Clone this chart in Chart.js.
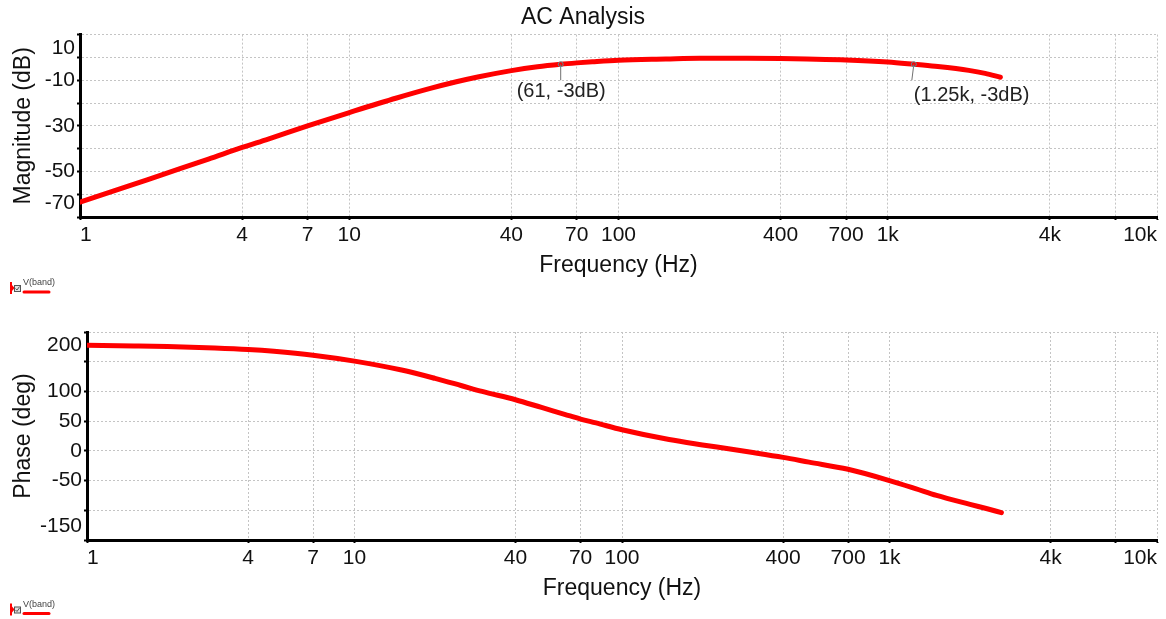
<!DOCTYPE html>
<html>
<head>
<meta charset="utf-8">
<title>AC Analysis</title>
<script src="https://cdn.jsdelivr.net/npm/chart.js@4.4.1/dist/chart.umd.min.js"></script>
<style>
  body { margin: 0; background: #fff; }
  canvas { display: block; }
</style>
</head>
<body>
<canvas id="magChart" width="1166" height="300"></canvas>
<canvas id="phaseChart" width="1166" height="319"></canvas>
<script>
// Sweep points (Hz), shared by both traces
const freqHz = [1, 1.5, 2, 3, 4, 5, 7, 10, 15, 20, 25, 30, 40, 50, 61, 70, 80, 100,
  150, 200, 250, 300, 400, 500, 700, 1000, 1250, 1500, 2000, 2300, 2620];

// V(band) magnitude in dB
const magnitudeDb = [-63.5, -56.6, -51.6, -44.6, -39.5, -35.8, -30.0, -24.2, -17.8, -13.6,
  -10.7, -8.6, -5.8, -4.1, -3.0, -2.4, -1.9, -1.2, -0.7, -0.4, -0.4, -0.4, -0.5, -0.7,
  -1.1, -2.0, -3.0, -3.9, -5.7, -7.0, -8.7];

// V(band) phase in degrees
const phaseDeg = [177.5, 176.5, 175.5, 173, 170.5, 167.5, 161, 151, 136, 122, 110, 100,
  86, 73, 61.5, 53.5, 47, 35.5, 19, 10, 3.5, -2, -11, -19, -31, -50, -63.5, -75, -90,
  -97, -104];

// Axis ticks: a gridline at every value, blank labels are left off
const freqTicks = [1, 4, 7, 10, 40, 70, 100, 400, 700, 1000, 4000, 7000, 10000];
const freqTickLabels = ['1', '4', '7', '10', '40', '70', '100', '400', '700', '1k', '4k', '', '10k'];
const magTicks = [-70, -60, -50, -40, -30, -20, -10, 0, 10];
const magTickLabels = ['-70', '', '-50', '', '-30', '', '-10', '', '10'];
const phaseTicks = [-150, -100, -50, 0, 50, 100, 150, 200];
const phaseTickLabels = ['-150', '', '-50', '0', '50', '100', '', '200'];

// -3dB cursor readouts on the magnitude trace
const cursorFreq = [61, 1250];
const cursorDb = [-3, -3];
const cursorText = ['(61, -3dB)', '(1.25k, -3dB)'];

const traceName = 'V(band)';

const FONT = '"Liberation Sans", Arial, sans-serif';
Chart.defaults.font.family = FONT;
Chart.defaults.color = '#111';

// small key under each plot: colour flag, checkbox, name and a line sample
const traceKey = {
  id: 'traceKey',
  afterDraw(chart, args, opts) {
    const ds = chart.data.datasets[0];
    const ctx = chart.ctx;
    const y = chart.chartArea.bottom + opts.offset;
    ctx.save();
    ctx.fillStyle = ds.borderColor;
    ctx.fillRect(10, y - 1, 2, 12);
    ctx.beginPath();
    ctx.moveTo(12, y + 2);
    ctx.lineTo(14.5, y + 5);
    ctx.lineTo(12, y + 8);
    ctx.fill();
    ctx.fillStyle = '#e2e2e2';
    ctx.fillRect(14.5, y + 2.5, 6, 6);
    ctx.strokeStyle = '#555';
    ctx.lineWidth = 1;
    ctx.strokeRect(14.5, y + 2.5, 6, 6);
    ctx.beginPath();
    ctx.moveTo(15.5, y + 5.5);
    ctx.lineTo(17, y + 7);
    ctx.lineTo(19.5, y + 3.5);
    ctx.stroke();
    ctx.fillStyle = '#444';
    ctx.font = '9px ' + FONT;
    ctx.textBaseline = 'middle';
    ctx.fillText(ds.label, 23, y);
    ctx.strokeStyle = ds.borderColor;
    ctx.lineWidth = 3;
    ctx.lineCap = 'round';
    ctx.beginPath();
    ctx.moveTo(24, y + 9);
    ctx.lineTo(49, y + 9);
    ctx.stroke();
    ctx.restore();
  }
};

// cursor markers with their readout text
const cursorNotes = {
  id: 'cursorNotes',
  afterDatasetsDraw(chart, args, opts) {
    const { ctx, scales: { x, y } } = chart;
    ctx.save();
    cursorFreq.forEach((f, i) => {
      const px = x.getPixelForValue(f);
      const py = y.getPixelForValue(cursorDb[i]);
      const off = opts.offsets[i];
      ctx.strokeStyle = '#707070';
      ctx.lineWidth = 1;
      ctx.beginPath();
      ctx.moveTo(px, py);
      ctx.lineTo(px - off.lean, py + 16);
      ctx.stroke();
      ctx.strokeStyle = '#5b8f95';
      ctx.beginPath();
      ctx.arc(px, py, 2.5, 0, Math.PI * 2);
      ctx.stroke();
      ctx.fillStyle = '#222';
      ctx.font = '20px ' + FONT;
      ctx.textBaseline = 'middle';
      ctx.fillText(cursorText[i], px + off.dx, py + off.dy);
    });
    ctx.restore();
  }
};

// first and last y labels sit inside the plot, pushed off the edge by a blank line
function yTickFont(ctx) {
  const last = ctx.scale && ctx.scale.ticks ? ctx.scale.ticks.length - 1 : -1;
  const edge = ctx.type === 'tick' && (ctx.index === 0 || ctx.index === last);
  return { family: FONT, size: 21, lineHeight: edge ? 27 / 21 : 1.2 };
}

function yTickLabel(labels) {
  return (value, index, ticks) => {
    const text = labels[index];
    if (index === 0) return [text, ''];
    if (index === ticks.length - 1) return ['', text];
    return text;
  };
}

const gridStyle = { color: '#c4c4c4', lineWidth: 1, tickColor: '#000', tickWidth: 2, tickLength: 3 };
const borderStyle = { color: '#000', width: 3, dash: [2, 2] };

function bodePlot(canvasId, cfg) {
  return new Chart(document.getElementById(canvasId), {
    type: 'line',
    data: {
      datasets: [{
        label: traceName,
        data: freqHz.map((f, i) => ({ x: f, y: cfg.values[i] })),
        borderColor: '#ff0000',
        borderWidth: 5,
        borderCapStyle: 'round',
        borderJoinStyle: 'round',
        pointRadius: 0,
        cubicInterpolationMode: 'monotone',
        fill: false
      }]
    },
    options: {
      responsive: false,
      animation: false,
      events: [],
      layout: { padding: cfg.padding },
      plugins: {
        legend: { display: false },
        tooltip: { enabled: false },
        title: cfg.title
          ? { display: true, text: cfg.title, color: '#111',
              font: { size: 23, weight: 'normal' }, padding: { top: 4, bottom: 3 } }
          : { display: false },
        traceKey: { offset: cfg.keyOffset },
        cursorNotes: {
          offsets: [{ dx: -44, dy: 27.5, lean: 0 }, { dx: 0, dy: 31, lean: 2 }]
        }
      },
      scales: {
        x: {
          type: 'logarithmic',
          min: 1,
          max: 10000,
          afterBuildTicks: s => { s.ticks = freqTicks.map(v => ({ value: v })); },
          afterFit: s => { s.height = 62; s.paddingRight = 9; },
          ticks: {
            callback: (v, i) => freqTickLabels[i],
            align: 'inner',
            autoSkip: false,
            maxRotation: 0,
            padding: 3,
            color: '#111',
            font: { size: 21 }
          },
          grid: gridStyle,
          border: borderStyle,
          title: { display: true, text: 'Frequency (Hz)', color: '#111', font: { size: 23 }, padding: 0 }
        },
        y: {
          min: cfg.yTicks[0],
          max: cfg.yTicks[cfg.yTicks.length - 1],
          afterBuildTicks: s => { s.ticks = cfg.yTicks.map(v => ({ value: v })); },
          afterFit: s => { s.width = cfg.yWidth; },
          ticks: {
            callback: yTickLabel(cfg.yLabels),
            autoSkip: false,
            padding: 2,
            color: '#111',
            font: yTickFont
          },
          grid: gridStyle,
          border: borderStyle,
          title: { display: true, text: cfg.yTitle, color: '#111', font: { size: 23 }, padding: { top: 10 } }
        }
      }
    },
    plugins: cfg.plugins
  });
}

bodePlot('magChart', {
  title: 'AC Analysis',
  values: magnitudeDb,
  yTicks: magTicks,
  yLabels: magTickLabels,
  yTitle: 'Magnitude (dB)',
  yWidth: 80,
  padding: { top: 0, right: 0, bottom: 21, left: 0 },
  keyOffset: 66,
  plugins: [traceKey, cursorNotes]
});

bodePlot('phaseChart', {
  title: null,
  values: phaseDeg,
  yTicks: phaseTicks,
  yLabels: phaseTickLabels,
  yTitle: 'Phase (deg)',
  yWidth: 87,
  padding: { top: 32, right: 0, bottom: 17, left: 0 },
  keyOffset: 64.5,
  plugins: [traceKey]
});
</script>
</body>
</html>
